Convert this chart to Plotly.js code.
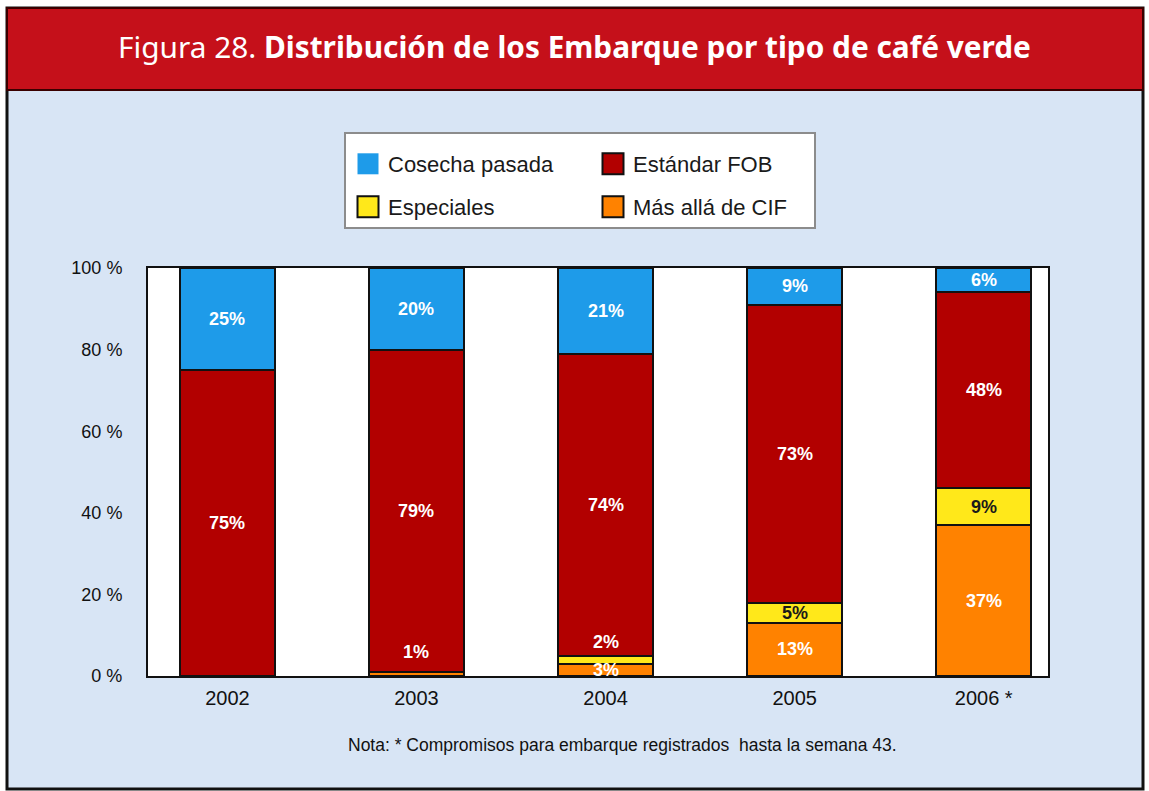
<!DOCTYPE html>
<html>
<head>
<meta charset="utf-8">
<script src="https://cdn.plot.ly/plotly-3.0.1.min.js"></script>
<style>html,body{margin:0;padding:0;background:#fff;}#chart{width:1149px;height:791px;}</style>
</head>
<body>
<div id="chart"></div>
<script>
// ---- data ----
const years = ['2002', '2003', '2004', '2005', '2006 *'];
const masAllaCIF = [0, 1, 3, 13, 37];
const especiales = [0, 0, 2, 5, 9];
const estandarFOB = [75, 79, 74, 73, 48];
const cosechaPasada = [25, 20, 21, 9, 6];
const yTicks = [0, 20, 40, 60, 80, 100];

const seriesNames = ['Más allá de CIF', 'Especiales', 'Estándar FOB', 'Cosecha pasada'];
const seriesValues = [masAllaCIF, especiales, estandarFOB, cosechaPasada];
const seriesColors = ['#ff8200', '#ffe81a', '#b20000', '#1e9be9'];
const legendRanks = [4, 3, 2, 1];
const legendIds = ['legend2', 'legend2', 'legend', 'legend'];
const labelColors = ['#ffffff', '#1a1a1a', '#ffffff', '#ffffff'];

// ---- geometry helpers (pixel -> paper) ----
const L = 148, R = 101, T = 268, B = 115, W = 1149, H = 791;
const PW = W - L - R, PH = H - T - B;
const xp = px => (px - L) / PW;
const yp = py => (H - B - py) / PH;

const traces = seriesValues.map((vals, i) => ({
  type: 'bar',
  name: seriesNames[i],
  x: years,
  y: vals,
  marker: { color: seriesColors[i], line: { color: '#111', width: 2 } },
  legend: legendIds[i],
  legendrank: legendRanks[i],
  hoverinfo: 'skip'
}));

// value labels computed from the stacked data (x given as category index)
const annotations = [];
const base = years.map(() => 0);
seriesValues.forEach((vals, i) => {
  vals.forEach((v, j) => {
    if (v > 0) {
      let y, color;
      if (v < 3) { y = Math.max(base[j] + v + 3.4, 6); color = '#ffffff'; }
      else { y = base[j] + v / 2; color = labelColors[i]; }
      annotations.push({
        x: j, y: y, xref: 'x', yref: 'y', showarrow: false,
        text: v + '%',
        font: { family: 'Liberation Sans, Arial, sans-serif', size: 18, color: color, weight: 'bold' }
      });
    }
    base[j] += v;
  });
});

annotations.push({
  xref: 'paper', yref: 'paper', x: xp(622), y: yp(745), showarrow: false,
  xanchor: 'center', yanchor: 'middle',
  text: 'Nota: * Compromisos para embarque registrados  hasta la semana 43.',
  font: { family: 'Liberation Sans, Arial, sans-serif', size: 17.5, color: '#111' }
});

const shapes = [
  // light panel with black frame
  { type: 'rect', xref: 'paper', yref: 'paper', x0: xp(7), x1: xp(1143), y0: yp(789), y1: yp(8),
    fillcolor: '#d8e5f5', line: { color: '#111', width: 3 }, layer: 'below' },
  // red title band
  { type: 'rect', xref: 'paper', yref: 'paper', x0: xp(7), x1: xp(1143), y0: yp(90), y1: yp(8),
    fillcolor: '#c5101a', line: { color: '#3a0000', width: 2 }, layer: 'below' },
  // white plot area
  { type: 'rect', xref: 'paper', yref: 'paper', x0: 0, x1: 1, y0: 0, y1: 1,
    fillcolor: '#ffffff', line: { width: 0 }, layer: 'below' },
  // legend box
  { type: 'rect', xref: 'paper', yref: 'paper', x0: xp(345), x1: xp(815), y0: yp(228), y1: yp(133),
    fillcolor: '#ffffff', line: { color: '#8c8c8c', width: 2 }, layer: 'below' }
];

const legendFont = { family: 'Liberation Sans, Arial, sans-serif', size: 22, color: '#1a1a1a' };

const layout = {
  width: W, height: H,
  margin: { l: L, r: R, t: T, b: B, pad: 0 },
  paper_bgcolor: '#ffffff',
  plot_bgcolor: '#ffffff',
  barmode: 'stack',
  bargap: 0.5,
  showlegend: true,
  title: {
    text: 'Figura 28. <b>Distribución de los Embarque por tipo de café verde</b>',
    font: { family: 'Noto Sans, Open Sans, sans-serif', size: 29.8, color: '#ffffff' },
    x: 0.5, xanchor: 'center', xref: 'container',
    y: 1 - 48 / H, yanchor: 'middle', yref: 'container'
  },
  xaxis: {
    type: 'category',
    range: [-0.42, 4.34],
    showline: true, mirror: true, linecolor: '#111', linewidth: 2,
    showgrid: false, zeroline: false,
    ticks: 'outside', ticklen: 3, tickcolor: 'rgba(0,0,0,0)',
    tickfont: { family: 'Liberation Sans, Arial, sans-serif', size: 20, color: '#111' },
    fixedrange: true
  },
  yaxis: {
    range: [0, 100],
    tickvals: yTicks,
    ticktext: yTicks.map(t => t + ' %'),
    showline: true, mirror: true, linecolor: '#111', linewidth: 2,
    showgrid: false, zeroline: false,
    ticks: 'outside', ticklen: 20, tickcolor: 'rgba(0,0,0,0)',
    tickfont: { family: 'Liberation Sans, Arial, sans-serif', size: 18, color: '#111' },
    fixedrange: true
  },
  legend: {
    orientation: 'h', x: xp(348), y: yp(143), xanchor: 'left', yanchor: 'top',
    bgcolor: 'rgba(0,0,0,0)', borderwidth: 0, font: legendFont,
    entrywidth: 200, entrywidthmode: 'pixels', traceorder: 'normal'
  },
  legend2: {
    orientation: 'h', x: xp(348), y: yp(186), xanchor: 'left', yanchor: 'top',
    bgcolor: 'rgba(0,0,0,0)', borderwidth: 0, font: legendFont,
    entrywidth: 200, entrywidthmode: 'pixels', traceorder: 'normal'
  },
  shapes: shapes,
  annotations: annotations
};

Plotly.newPlot('chart', traces, layout, { displayModeBar: false, staticPlot: true }).then(gd => {
  // enlarge legend swatches to match the reference
  gd.querySelectorAll('g.traces').forEach(t => {
    const isCosecha = (t.textContent || '').indexOf('Cosecha') >= 0;
    t.querySelectorAll('.legendpoints path').forEach(p => {
      const tr = p.getAttribute('transform') || '';
      p.setAttribute('transform', tr + ' scale(1.75)');
      p.style.vectorEffect = 'non-scaling-stroke';
      if (isCosecha) p.style.strokeWidth = '0px';
    });
  });
});
</script>
</body>
</html>
